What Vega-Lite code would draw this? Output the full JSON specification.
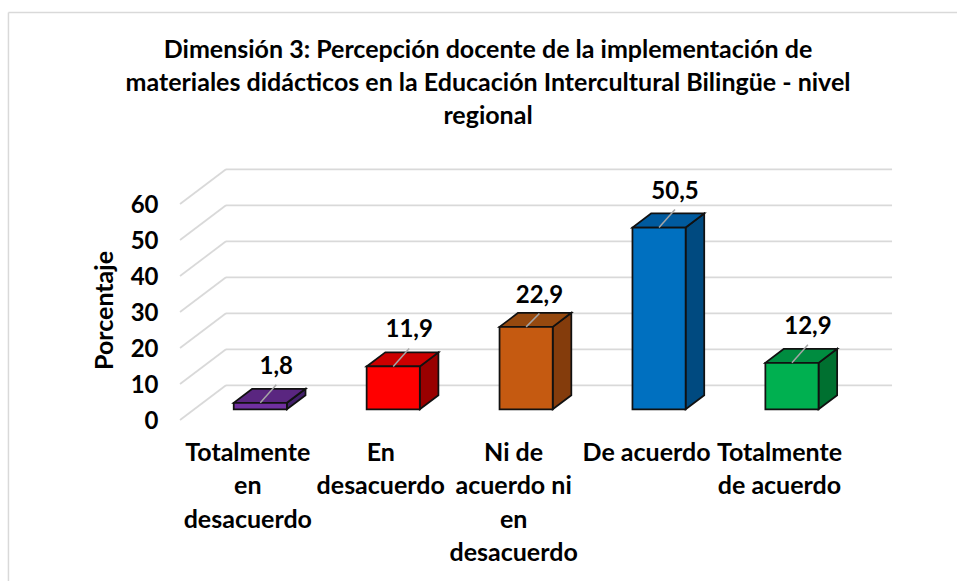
{
"$schema":"https://vega.github.io/schema/vega-lite/v6.json",
"width":730,"height":270,
"autosize":{"type":"none"},
"padding":{"left":170,"top":160,"right":57,"bottom":151},
"background":"white",
"title":{"text":["Dimensión 3: Percepción docente de la implementación de","materiales didácticos en la Educación Intercultural Bilingüe - nivel","regional"],"font":"Lato","fontWeight":"bold","fontSize":25,"lineHeight":33,"color":"#000000","anchor":"middle","frame":"group","dx":-47,"offset":-117},
"config":{"view":{"stroke":null},"font":"Lato"},
"resolve":{"scale":{"fill":"independent"}},
"data":{"values":[
{"categoria":"Totalmente en desacuerdo","orden":0,"valor":1.8},
{"categoria":"En desacuerdo","orden":1,"valor":11.9},
{"categoria":"Ni de acuerdo ni en desacuerdo","orden":2,"valor":22.9},
{"categoria":"De acuerdo","orden":3,"valor":50.5},
{"categoria":"Totalmente de acuerdo","orden":4,"valor":12.9}
]},
"layer":[
{"data":{"values":[{"nivel":0},{"nivel":10},{"nivel":20},{"nivel":30},{"nivel":40},{"nivel":50},{"nivel":60}]},
 "transform":[{"calculate":"datum.nivel+6.67","as":"w"}],
 "mark":{"type":"rule","stroke":"#d9d9d9","strokeWidth":1.75},
 "encoding":{"x":{"datum":-0.258,"type":"quantitative","scale":{"domain":[-0.6795,4.813],"nice":false,"zero":false},
   "axis":{"values":[0,1,2,3,4],"title":null,"domain":false,"ticks":false,"grid":false,"labelOffset":-13,"labelPadding":10,"labelFont":"Lato","labelFontWeight":"bold","labelFontSize":25,"labelColor":"#000000","labelLineHeight":33.5,"labelBaseline":"top","labelOverlap":false,"labelFlush":false,"labelBound":false,"labelAngle":0,
   "labelExpr":"datum.value==0?['Totalmente','en','desacuerdo']:datum.value==1?['En','desacuerdo']:datum.value==2?['Ni de','acuerdo ni','en','desacuerdo']:datum.value==3?['De acuerdo']:['Totalmente','de acuerdo']"}},
  "x2":{"datum":4.753},
  "y":{"field":"w","type":"quantitative","scale":{"domain":[-5.75,69.25],"nice":false,"zero":false},
   "axis":{"values":[0,10,20,30,40,50,60],"title":"Porcentaje","titleFont":"Lato","titleFontWeight":"bold","titleFontSize":25,"titleColor":"#000000","titleX":-53,"titleY":150,"domain":false,"ticks":false,"grid":false,"labelOffset":12.5,"labelPadding":12,"labelFont":"Lato","labelFontWeight":"bold","labelFontSize":24,"labelColor":"#000000"}}}},
{"data":{"values":[{"nivel":0},{"nivel":10},{"nivel":20},{"nivel":30},{"nivel":40},{"nivel":50},{"nivel":60}]},
 "transform":[{"calculate":"datum.nivel+6.67","as":"w"},{"calculate":"datum.nivel-2.97","as":"f"}],
 "mark":{"type":"rule","stroke":"#d9d9d9","strokeWidth":1.75},
 "encoding":{"x":{"datum":-0.604,"type":"quantitative"},"x2":{"datum":-0.258},"y":{"field":"f","type":"quantitative"},"y2":{"field":"w"}}},
{"data":{"values":[{"borde":110.2}]},
 "mark":{"type":"rule","stroke":"#d9d9d9","strokeWidth":1.5},
 "encoding":{"x":{"datum":-1.895,"type":"quantitative"},"x2":{"datum":5.242},"y":{"field":"borde","type":"quantitative"}}},
{"data":{"values":[{"borde":110.2}]},
 "mark":{"type":"rule","stroke":"#d9d9d9","strokeWidth":1.5},
 "encoding":{"x":{"datum":-1.895,"type":"quantitative"},"y":{"field":"borde","type":"quantitative"},"y2":{"datum":-47.7}}},
{"transform":[{"calculate":"[0,1]","as":"t"},{"flatten":["t"]},{"calculate":"datum.orden+0.2+datum.t*0.14","as":"xs"},{"calculate":"datum.t*3.9","as":"y0"},{"calculate":"datum.valor+datum.t*3.9","as":"y1"}],
 "mark":{"type":"area","stroke":"#111111","strokeWidth":1.75,"interpolate":"linear"},
 "encoding":{"x":{"field":"xs","type":"quantitative"},"y":{"field":"y0","type":"quantitative"},"y2":{"field":"y1"},
  "fill":{"field":"categoria","type":"nominal","legend":null,"scale":{"domain":["Totalmente en desacuerdo","En desacuerdo","Ni de acuerdo ni en desacuerdo","De acuerdo","Totalmente de acuerdo"],"range":["#43206b","#990000","#843c0c","#004a80","#007030"]}}}},
{"transform":[{"calculate":"[0,1]","as":"t"},{"flatten":["t"]},{"calculate":"datum.orden-0.2+datum.t*0.14","as":"xa"},{"calculate":"datum.orden+0.2+datum.t*0.14","as":"xb"},{"calculate":"datum.valor+datum.t*3.9","as":"yt"}],
 "mark":{"type":"area","orient":"horizontal","stroke":"#111111","strokeWidth":1.75,"interpolate":"linear"},
 "encoding":{"y":{"field":"yt","type":"quantitative"},"x":{"field":"xa","type":"quantitative"},"x2":{"field":"xb"},
  "fill":{"field":"categoria","type":"nominal","legend":null,"scale":{"domain":["Totalmente en desacuerdo","En desacuerdo","Ni de acuerdo ni en desacuerdo","De acuerdo","Totalmente de acuerdo"],"range":["#5a2680","#cc0000","#96490f","#005a9e","#008c40"]}}}},
{"transform":[{"calculate":"datum.orden-0.2","as":"xa"},{"calculate":"datum.orden+0.2","as":"xb"},{"calculate":"0","as":"y0"}],
 "mark":{"type":"rect","stroke":"#111111","strokeWidth":1.75},
 "encoding":{"x":{"field":"xa","type":"quantitative"},"x2":{"field":"xb"},"y":{"field":"valor","type":"quantitative"},"y2":{"field":"y0"},
  "fill":{"field":"categoria","type":"nominal","legend":null,"scale":{"domain":["Totalmente en desacuerdo","En desacuerdo","Ni de acuerdo ni en desacuerdo","De acuerdo","Totalmente de acuerdo"],"range":["#7030a0","#ff0000","#c55a11","#0070c0","#00b050"]}}}},
{"transform":[{"calculate":"datum.orden==2?datum.orden+0.1:datum.orden+0.12","as":"xb"},{"calculate":"datum.orden==2?datum.valor+3.7:datum.valor+5","as":"yb"}],
 "mark":{"type":"rule","stroke":"#a6a6a6","strokeWidth":1.5},
 "encoding":{"x":{"field":"orden","type":"quantitative"},"x2":{"field":"xb"},"y":{"field":"valor","type":"quantitative"},"y2":{"field":"yb"}}},
{"transform":[{"calculate":"replace(format(datum.valor,'.1f'),'.',',')","as":"etiqueta"},{"calculate":"datum.orden==2?datum.valor-1.3:datum.valor","as":"yl"},{"calculate":"datum.orden==2?datum.orden-0.02:datum.orden","as":"xl"}],
 "mark":{"type":"text","font":"Lato","fontWeight":"bold","fontSize":24,"color":"#000000","dx":16,"dy":-36,"baseline":"middle","align":"center"},
 "encoding":{"x":{"field":"xl","type":"quantitative"},"y":{"field":"yl","type":"quantitative"},"text":{"field":"etiqueta"}}}
]
}
